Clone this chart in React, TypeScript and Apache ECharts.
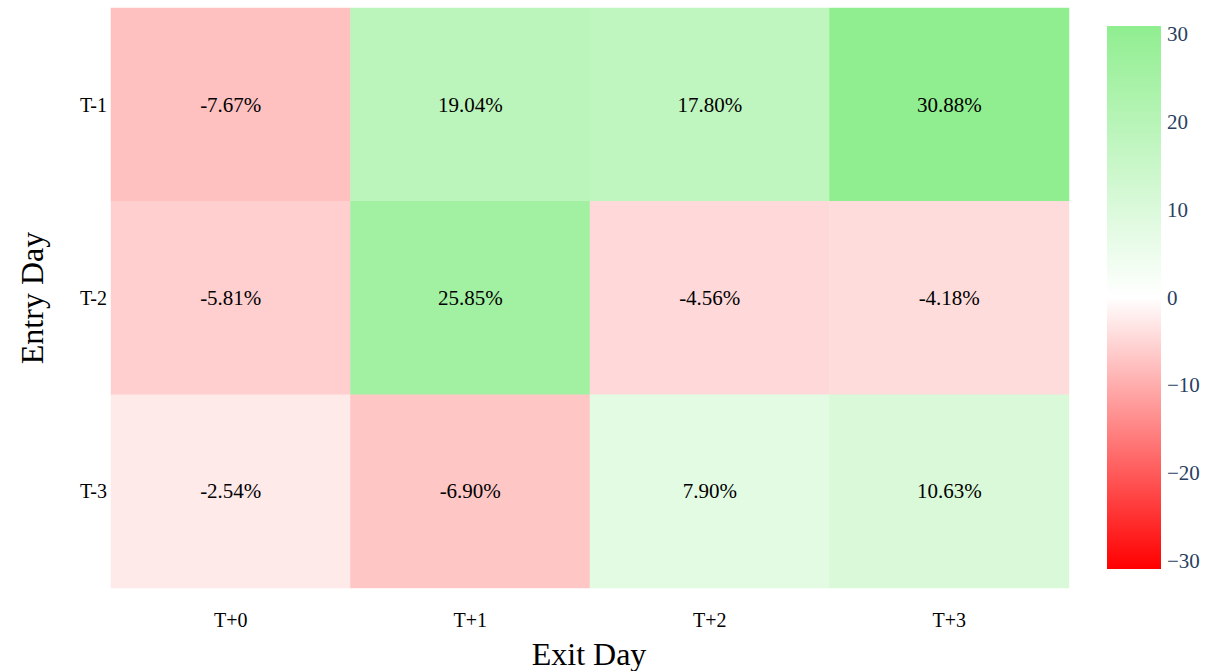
import React, { useEffect, useRef } from "react";
import * as echarts from "echarts";

const exitDays = ["T+0", "T+1", "T+2", "T+3"];
const entryDays = ["T-1", "T-2", "T-3"];
const rowT1 = [-7.67, 19.04, 17.8, 30.88];
const rowT2 = [-5.81, 25.85, -4.56, -4.18];
const rowT3 = [-2.54, -6.9, 7.9, 10.63];
const colorbarTicks = [-30, -20, -10, 0, 10, 20, 30];
const zMin = -30.88;
const zMax = 30.88;
const scaleColors = ["#ff0000", "#ffffff", "#90ee90"];

const FONT = "Liberation Serif";

export default function App() {
  const ref = useRef<HTMLDivElement>(null);
  useEffect(() => {
    document.body.style.margin = "0";
    const chart = echarts.init(ref.current!, undefined, { renderer: "svg" });
    const rows = [rowT1, rowT2, rowT3];
    const data: [number, number, number][] = [];
    rows.forEach((row, r) =>
      row.forEach((v, c) => data.push([c, r, v]))
    );
    chart.setOption({
      animation: false,
      textStyle: { fontFamily: FONT },
      grid: [
        { left: 111, top: 8, width: 958, height: 580 },
        { left: 1107, top: 26, width: 54, height: 543 },
      ],
      xAxis: [
        {
          type: "category",
          gridIndex: 0,
          data: exitDays,
          axisLine: { show: false },
          axisTick: { show: false },
          splitLine: { show: false },
          axisLabel: { color: "#000", fontSize: 20, fontFamily: FONT, margin: 22 },
        },
        { type: "value", gridIndex: 1, show: false, min: 0, max: 1 },
      ],
      yAxis: [
        {
          type: "category",
          gridIndex: 0,
          data: entryDays,
          inverse: true,
          axisLine: { show: false },
          axisTick: { show: false },
          splitLine: { show: false },
          axisLabel: { color: "#000", fontSize: 20, fontFamily: FONT, margin: 4 },
        },
        {
          type: "value",
          gridIndex: 1,
          position: "right",
          min: zMin,
          max: zMax,
          axisLine: { show: false },
          axisTick: { show: false },
          splitLine: { show: false },
          axisLabel: {
            customValues: colorbarTicks,
            color: "#2a3f5f",
            fontSize: 21,
            fontFamily: FONT,
            margin: 6,
            formatter: (v: number) => String(v).replace("-", "\u2212"),
          },
        },
      ],
      visualMap: {
        show: false,
        type: "continuous",
        min: zMin,
        max: zMax,
        seriesIndex: 0,
        inRange: { color: scaleColors },
      },
      graphic: [
        {
          type: "rect",
          shape: { x: 1107, y: 26, width: 54, height: 543 },
          style: {
            fill: new echarts.graphic.LinearGradient(0, 1, 0, 0, [
              { offset: 0, color: scaleColors[0] },
              { offset: 0.5, color: scaleColors[1] },
              { offset: 1, color: scaleColors[2] },
            ]),
          },
          z: -1,
        },
        {
          type: "text",
          x: 589,
          y: 654,
          style: {
            text: "Exit Day",
            fontSize: 32,
            fontFamily: FONT,
            fill: "#000",
            align: "center",
            verticalAlign: "middle",
          },
        },
        {
          type: "text",
          x: 32,
          y: 298,
          rotation: Math.PI / 2,
          style: {
            text: "Entry Day",
            fontSize: 32,
            fontFamily: FONT,
            fill: "#000",
            align: "center",
            verticalAlign: "middle",
          },
        },
      ],
      series: [
        {
          type: "heatmap",
          xAxisIndex: 0,
          yAxisIndex: 0,
          data,
          label: {
            show: true,
            color: "#000",
            fontSize: 21,
            fontFamily: FONT,
            formatter: (p: any) => `${p.value[2].toFixed(2)}%`,
          },
          itemStyle: { borderWidth: 0 },
          emphasis: { disabled: true },
        },
      ],
    });
    return () => chart.dispose();
  }, []);
  return <div ref={ref} style={{ width: 1212, height: 671 }} />;
}
